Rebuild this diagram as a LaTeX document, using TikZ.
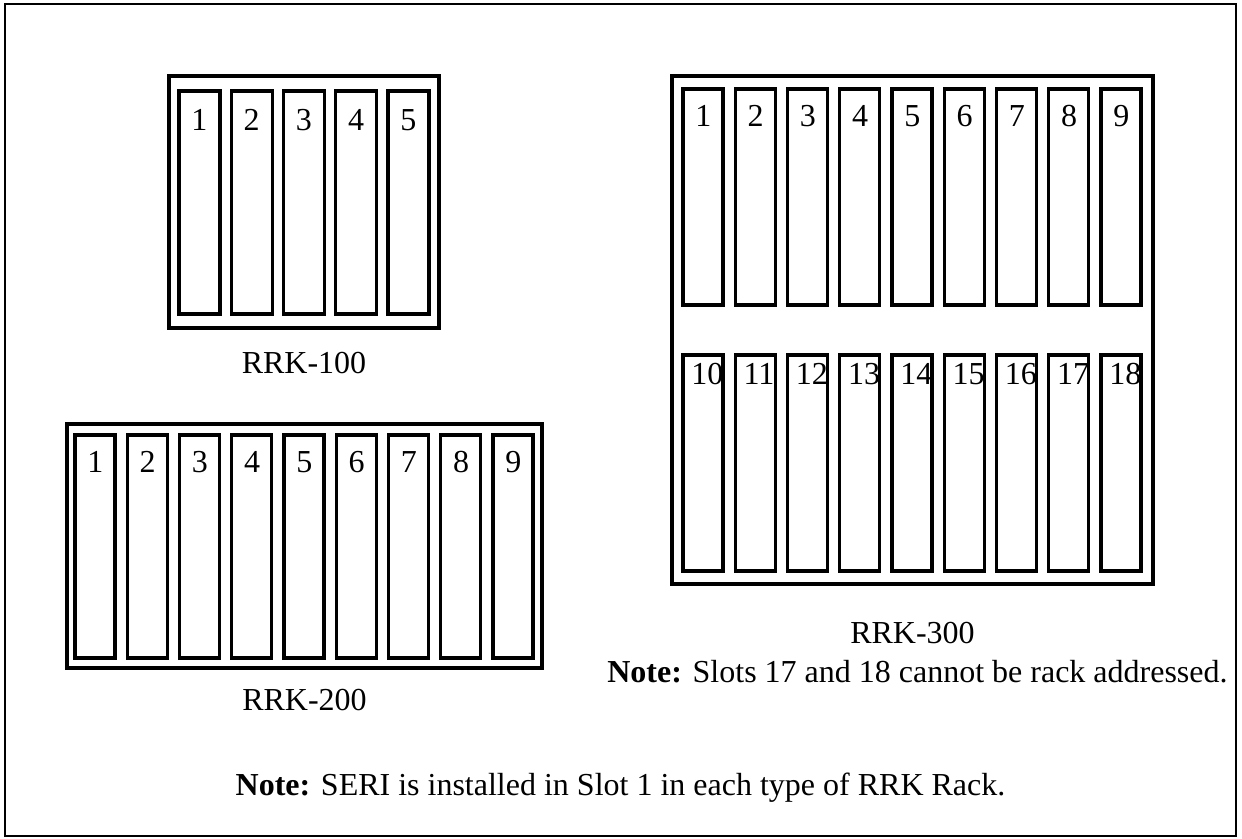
\documentclass[tikz,border=0pt]{standalone}
\usepackage{fontspec}
\setmainfont{Liberation Serif}
\usepackage{tikz}
\usetikzlibrary{positioning}
\tikzset{
  frame/.style={draw, line width=1.2pt},
  rack/.style={draw, line width=1.6pt},
  slot/.style={draw, line width=1.6pt},
  num/.style={anchor=base west, inner sep=0pt, font=\fontsize{16}{19}\selectfont},
  lbl/.style={anchor=base, inner sep=0pt, font=\fontsize{16}{19}\selectfont}
}

\begin{document}
\begin{tikzpicture}[x=0.5pt,y=-0.5pt]
\useasboundingbox (0,0) rectangle (1242,839);
\draw[frame] (5,4) rectangle (1236,836);
% RRK-100
\draw[rack] (169,76) rectangle (439,328);
\foreach \i in {1,...,5}{
  \draw[slot] ({179+(\i-1)*52.25},91) rectangle ++(41,223);
  \node[num] (a\i) at ({191+(\i-1)*52.25},131) {\i};
}
\node[lbl] (rrkA) at (304,374) {RRK-100};
% RRK-200
\draw[rack] (67,424) rectangle (542,668);
\foreach \i in {1,...,9}{
  \draw[slot] ({75+(\i-1)*52.25},435) rectangle ++(40,223);
  \node[num] (b\i) at ({87+(\i-1)*52.25},473) {\i};
}
\node[lbl] (rrkB) at (304.5,710) {RRK-200};
% RRK-300
\draw[rack] (672,76) rectangle (1153,584);
\foreach \i in {1,...,9}{
  \draw[slot] ({683+(\i-1)*52.25},89) rectangle ++(40,216);
  \node[num] (c\i) at ({695+(\i-1)*52.25},127) {\i};
}
\foreach \n [count=\i] in {10,...,18}{
  \draw[slot] ({683+(\i-1)*52.25},355) rectangle ++(40,216);
  \node[num] (c\n) at ({691+(\i-1)*52.25},385) {\n};
}
\node[lbl] (rrkC) at (912.5,643) {RRK-300};
\node[lbl] (noteC) at (917.5,682) {\textbf{Note:} Slots 17 and 18 cannot be rack addressed.};
% general note
\node[lbl] (noteAll) at (620.5,795) {\textbf{Note:} SERI is installed in Slot 1 in each type of RRK Rack.};
\end{tikzpicture}
\end{document}
